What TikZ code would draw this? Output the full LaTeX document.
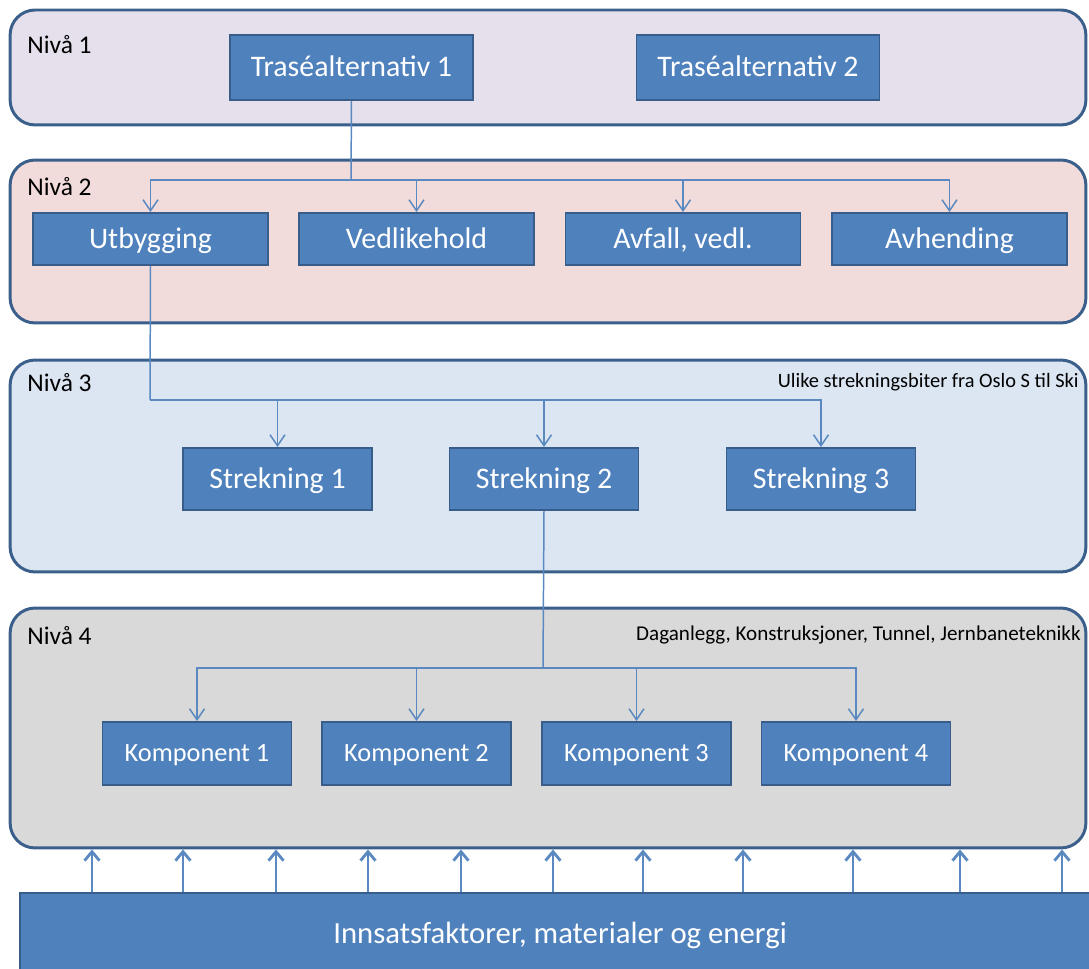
\documentclass[tikz,border=0pt]{standalone}
\usepackage{fontspec}
\setmainfont{Carlito}
\usetikzlibrary{arrows.meta}
\definecolor{rim}{HTML}{3A5F8B}
\definecolor{boxblue}{HTML}{4F81BD}
\definecolor{boxrim}{HTML}{385D8A}
\definecolor{lineblue}{HTML}{5A88C0}
\definecolor{fillA}{HTML}{E5E0EC}
\definecolor{fillB}{HTML}{F2DCDB}
\definecolor{fillC}{HTML}{DCE6F2}
\definecolor{fillD}{HTML}{D9D9D9}
\tikzset{
  panel/.style={draw=rim, line width=1.7pt, rounded corners=0.5cm, minimum width=21.52cm, inner sep=0pt},
  box/.style={draw=boxrim, line width=1.1pt, fill=boxblue, text=white, font=\fontsize{17}{20}\selectfont, inner sep=0pt, text height=10.7pt, text depth=0pt},
  smallbox/.style={box, minimum width=3.78cm, minimum height=1.26cm, font=\fontsize{15}{18}\selectfont, text height=9.5pt},
  level/.style={anchor=base west, inner sep=0pt, font=\fontsize{14.5}{16}\selectfont},
  note/.style={anchor=base east, inner sep=0pt, font=\fontsize{11.6}{13}\selectfont},
  link/.style={draw=lineblue, line width=0.85pt, >={Straight Barb[length=2.2mm,width=3mm]}},
  inflow/.style={draw=lineblue, line width=1.6pt, >={Straight Barb[length=1.8mm,width=3mm]}}
}
\begin{document}
\begin{tikzpicture}[x=0.02cm, y=-0.02cm]
  \useasboundingbox (0,0) rectangle (1089,969);
  \clip (0,0) rectangle (1089,969);
  \node[panel, fill=fillA, minimum height=2.3cm] (niva1) at (548,67.5) {};
  \node[panel, fill=fillB, minimum height=3.26cm] (niva2) at (548,241.5) {};
  \node[panel, fill=fillC, minimum height=4.24cm] (niva3) at (548,466) {};
  \node[panel, fill=fillD, minimum height=4.8cm] (niva4) at (548,728) {};
  \node[level] at (27,54) {Nivå 1};
  \node[level] at (27,196) {Nivå 2};
  \node[level] at (27,392) {Nivå 3};
  \node[level] at (27,644) {Nivå 4};
  \node[note] at (1079,388) {Ulike strekningsbiter fra Oslo S til Ski};
  \node[note, font=\fontsize{12}{14}\selectfont] at (1081,640) {Daganlegg, Konstruksjoner, Tunnel, Jernbaneteknikk};

  \node[box, minimum width=4.86cm, minimum height=1.3cm] (tras1) at (351.5,67.5) {Traséalternativ 1};
  \node[box, minimum width=4.86cm, minimum height=1.3cm] (tras2) at (758,67.5) {Traséalternativ 2};

  \node[box, minimum width=4.7cm, minimum height=1.04cm] (utb) at (150.5,239) {Utbygging};
  \node[box, minimum width=4.7cm, minimum height=1.04cm] (vedl) at (416.5,239) {Vedlikehold};
  \node[box, minimum width=4.7cm, minimum height=1.04cm] (avf) at (683,239) {Avfall, vedl.};
  \node[box, minimum width=4.7cm, minimum height=1.04cm] (avh) at (949.5,239) {Avhending};

  \node[box, minimum width=3.78cm, minimum height=1.24cm] (str1) at (277.5,479) {Strekning 1};
  \node[box, minimum width=3.78cm, minimum height=1.24cm] (str2) at (544,479) {Strekning 2};
  \node[box, minimum width=3.78cm, minimum height=1.24cm] (str3) at (821,479) {Strekning 3};

  \node[smallbox] (komp1) at (197,753.5) {Komponent 1};
  \node[smallbox] (komp2) at (416.5,753.5) {Komponent 2};
  \node[smallbox] (komp3) at (636.5,753.5) {Komponent 3};
  \node[smallbox] (komp4) at (856,753.5) {Komponent 4};

  \node[box, minimum width=21.6cm, minimum height=1.64cm, font=\fontsize{17.5}{21}\selectfont, text height=11pt] (innsats) at (560,934) {Innsatsfaktorer, materialer og energi};

  \coordinate (split1) at (351,180);
  \coordinate (split2) at (150,400);
  \coordinate (split3) at (543,668);

  \draw[link] (tras1.south) -- (split1);
  \draw[link,->] (split1) -| (utb.north);
  \draw[link,->] (split1) -| (vedl.north);
  \draw[link,->] (split1) -| (avf.north);
  \draw[link,->] (split1) -| (avh.north);

  \draw[link] (utb.south) -- (split2);
  \draw[link,->] (split2) -| (str1.north);
  \draw[link,->] (split2) -| (str2.north);
  \draw[link,->] (split2) -| (str3.north);

  \draw[link] (str2.south) -- (split3);
  \draw[link,->] (split3) -| (komp1.north);
  \draw[link,->] (split3) -| (komp2.north);
  \draw[link,->] (split3) -| (komp3.north);
  \draw[link,->] (split3) -| (komp4.north);

  \foreach \x in {92,183,276,368,461,553,643,743,853,960,1062}
    \draw[inflow,->] (innsats.north -| \x,0) -- (niva4.south -| \x,0);
\end{tikzpicture}
\end{document}
